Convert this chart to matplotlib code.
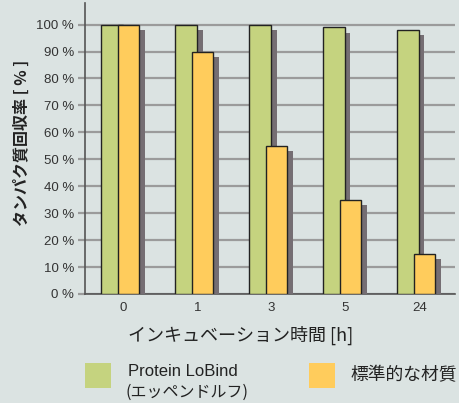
import matplotlib
matplotlib.use("Agg")
import matplotlib.pyplot as plt
from matplotlib.patches import Rectangle
import numpy as np

plt.rcParams['font.family'] = ['Liberation Sans', 'Noto Sans CJK JP', 'DejaVu Sans']

# %% Data
hours = ["0", "1", "3", "5", "24"]
lobind = [100, 100, 100, 99, 98]
standard = [100, 90, 55, 35, 15]
y_ticks = [0, 10, 20, 30, 40, 50, 60, 70, 80, 90, 100]
labels = ["Protein LoBind", "(エッペンドルフ)", "標準的な材質"]

# %% Style
bg = "#dbe3e2"
green = "#c5d37f"
orange = "#ffcc5c"
shadow = "#756e73"
grid_c = "#9b9b9b"
cjk = ['Noto Sans CJK JP', 'DejaVu Sans']

fig = plt.figure(figsize=(4.6, 4.03), dpi=100, facecolor=bg)
ax = fig.add_axes([0.185, 0.2705, 0.804, 0.722])
ax.set_facecolor(bg)

x = np.arange(len(hours))
w = 0.293
g_off = -0.30 + w / 2
o_off = -0.08 + w / 2
dx, dy = 0.075, 2

# shadows then bars
ax.bar(x + g_off + dx, np.array(lobind) - dy, w, color=shadow, zorder=2)
ax.bar(x + g_off, lobind, w, color=green, edgecolor="#222222", linewidth=1, zorder=3)
ax.bar(x + o_off + dx, np.array(standard) - dy, w, color=shadow, zorder=4)
ax.bar(x + o_off, standard, w, color=orange, edgecolor="#222222", linewidth=1, zorder=5)

ax.set_xlim(-0.52, 4.48)
ax.set_ylim(0, 108)
ax.set_yticks(y_ticks)
ax.set_yticklabels([f"{v} %" for v in y_ticks], fontsize=9.5, color="#333333")
ax.set_xticks(x)
ax.set_xticklabels(hours, fontsize=9.5, color="#333333")
ax.yaxis.grid(True, color=grid_c, linewidth=1.6, zorder=0)
ax.set_axisbelow(True)
ax.tick_params(axis="y", length=5, width=1.6, color=grid_c, pad=3)
ax.tick_params(axis="x", length=0, pad=6)

for s in ["top", "right"]:
    ax.spines[s].set_visible(False)
for s in ["left", "bottom"]:
    ax.spines[s].set_color("#555555")
    ax.spines[s].set_linewidth(1.2)

ax.set_xlabel("インキュベーション時間 [h]", fontsize=13, color="#222222", family=cjk)
ax.xaxis.set_label_coords(0.42, -0.11)
ax.set_ylabel("タンパク質回収率 [ % ]", fontsize=11.5, fontweight="bold", color="#222222", family=cjk)
ax.yaxis.set_label_coords(-0.15, 0.52)

# legend drawn by hand in figure coords
fig.patches.append(Rectangle((0.1848, 0.0372), 0.0565, 0.062, transform=fig.transFigure,
                             facecolor=green, edgecolor="none"))
fig.patches.append(Rectangle((0.6717, 0.0372), 0.0565, 0.062, transform=fig.transFigure,
                             facecolor=orange, edgecolor="none"))
fig.text(0.278, 0.077, labels[0], fontsize=12, color="#222222", va="center", ha="left")
fig.text(0.272, 0.027, labels[1], fontsize=11.5, color="#222222", va="center", ha="left",
         family=cjk)
fig.text(0.761, 0.0695, labels[2], fontsize=12.8, color="#222222", va="center", ha="left",
         family=cjk)

fig.savefig("out.png", dpi=100, facecolor=bg)
